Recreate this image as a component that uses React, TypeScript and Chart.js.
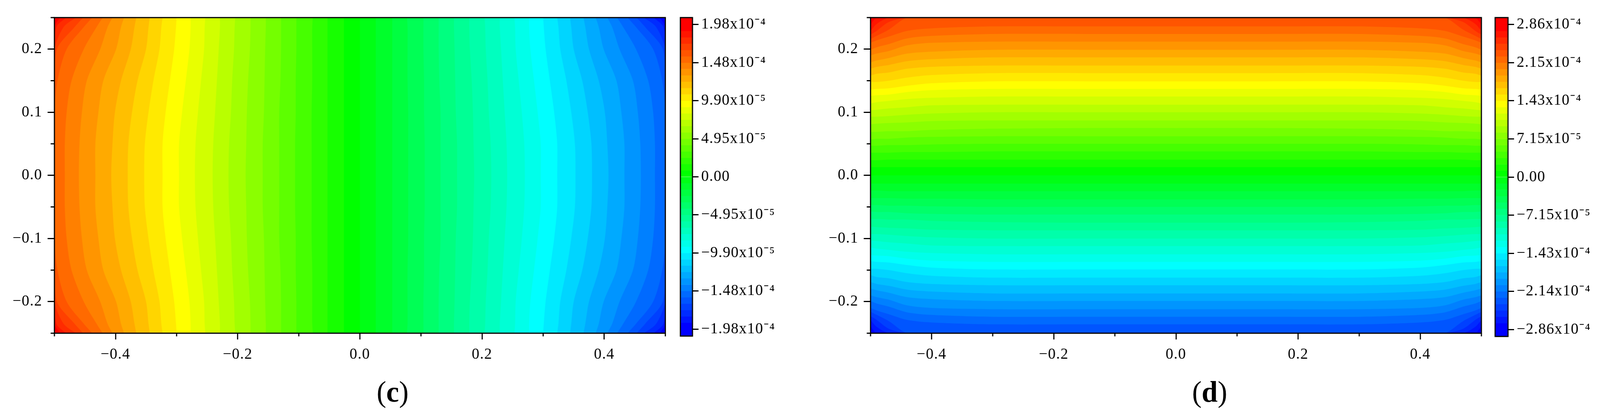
import React, { useEffect, useRef } from "react";
import { Chart, registerables } from "chart.js";

Chart.register(...registerables);

const FONT = "'Liberation Serif', serif";

// x positions of the colour-band edges of panel (c), left to right, read at each row
const rowsC = [0.25, 0.235, 0.2, 0.15, 0.1, 0.05, 0, -0.05, -0.1, -0.15, -0.2, -0.235, -0.25];
const edgesC = [
  [-.491,-.5,-.5,-.5,-.5,-.5,-.5,-.5,-.5,-.5,-.5,-.5,-.491],
  [-.481,-.497,-.5,-.5,-.5,-.5,-.5,-.5,-.5,-.5,-.5,-.497,-.481],
  [-.465,-.485,-.5,-.5,-.5,-.5,-.5,-.5,-.5,-.5,-.5,-.485,-.465],
  [-.453,-.467,-.496,-.5,-.5,-.5,-.5,-.5,-.5,-.5,-.496,-.467,-.453],
  [-.438,-.452,-.48,-.495,-.5,-.5,-.5,-.5,-.5,-.495,-.48,-.452,-.438],
  [-.421,-.431,-.452,-.472,-.48,-.483,-.483,-.483,-.48,-.472,-.452,-.431,-.421],
  [-.405,-.413,-.425,-.447,-.455,-.459,-.46,-.459,-.455,-.447,-.425,-.413,-.405],
  [-.386,-.391,-.399,-.42,-.428,-.433,-.433,-.433,-.428,-.42,-.399,-.391,-.386],
  [-.366,-.369,-.375,-.391,-.401,-.405,-.407,-.405,-.401,-.391,-.375,-.369,-.366],
  [-.344,-.346,-.35,-.364,-.373,-.379,-.38,-.379,-.373,-.364,-.35,-.346,-.344],
  [-.323,-.325,-.328,-.338,-.346,-.352,-.353,-.352,-.346,-.338,-.328,-.325,-.323],
  [-.3,-.301,-.304,-.311,-.318,-.323,-.323,-.323,-.318,-.311,-.304,-.301,-.3],
  [-.277,-.277,-.279,-.285,-.291,-.296,-.296,-.296,-.291,-.285,-.279,-.277,-.277],
  [-.253,-.254,-.255,-.26,-.265,-.269,-.27,-.269,-.265,-.26,-.255,-.254,-.253],
  [-.229,-.229,-.231,-.234,-.237,-.24,-.241,-.24,-.237,-.234,-.231,-.229,-.229],
  [-.204,-.205,-.206,-.209,-.211,-.214,-.215,-.214,-.211,-.209,-.206,-.205,-.204],
  [-.179,-.179,-.18,-.183,-.185,-.186,-.187,-.186,-.185,-.183,-.18,-.179,-.179],
  [-.154,-.154,-.155,-.156,-.157,-.159,-.159,-.159,-.157,-.156,-.155,-.154,-.154],
  [-.129,-.129,-.129,-.13,-.132,-.132,-.132,-.132,-.132,-.13,-.129,-.129,-.129],
  [-.104,-.104,-.104,-.105,-.105,-.106,-.106,-.106,-.105,-.105,-.104,-.104,-.104],
  [-.077,-.078,-.078,-.078,-.079,-.079,-.079,-.079,-.079,-.078,-.078,-.078,-.077],
  [-.053,-.053,-.053,-.053,-.053,-.053,-.053,-.053,-.053,-.053,-.053,-.053,-.053],
  [-.026,-.026,-.026,-.026,-.026,-.026,-.026,-.026,-.026,-.026,-.026,-.026,-.026],
  [0,0,0,0,0,0,0,0,0,0,0,0,0],
  [.026,.026,.026,.026,.026,.026,.026,.026,.026,.026,.026,.026,.026],
  [.053,.053,.053,.053,.053,.053,.053,.053,.053,.053,.053,.053,.053],
  [.077,.078,.078,.078,.079,.079,.079,.079,.079,.078,.078,.078,.077],
  [.104,.104,.104,.105,.105,.106,.106,.106,.105,.105,.104,.104,.104],
  [.129,.129,.129,.13,.132,.132,.132,.132,.132,.13,.129,.129,.129],
  [.154,.154,.155,.156,.157,.159,.159,.159,.157,.156,.155,.154,.154],
  [.179,.179,.18,.183,.185,.186,.187,.186,.185,.183,.18,.179,.179],
  [.204,.205,.206,.209,.211,.214,.215,.214,.211,.209,.206,.205,.204],
  [.229,.229,.231,.234,.237,.24,.241,.24,.237,.234,.231,.229,.229],
  [.253,.254,.255,.26,.265,.269,.27,.269,.265,.26,.255,.254,.253],
  [.277,.277,.279,.285,.291,.296,.296,.296,.291,.285,.279,.277,.277],
  [.3,.301,.304,.311,.318,.323,.323,.323,.318,.311,.304,.301,.3],
  [.323,.325,.328,.338,.346,.352,.353,.352,.346,.338,.328,.325,.323],
  [.344,.346,.35,.364,.373,.379,.38,.379,.373,.364,.35,.346,.344],
  [.366,.369,.375,.391,.401,.405,.407,.405,.401,.391,.375,.369,.366],
  [.386,.391,.399,.42,.428,.433,.433,.433,.428,.42,.399,.391,.386],
  [.405,.413,.425,.447,.455,.459,.46,.459,.455,.447,.425,.413,.405],
  [.421,.431,.452,.472,.48,.483,.483,.483,.48,.472,.452,.431,.421],
  [.438,.452,.48,.495,.5,.5,.5,.5,.5,.495,.48,.452,.438],
  [.453,.467,.496,.5,.5,.5,.5,.5,.5,.5,.496,.467,.453],
  [.465,.485,.5,.5,.5,.5,.5,.5,.5,.5,.5,.485,.465],
  [.481,.497,.5,.5,.5,.5,.5,.5,.5,.5,.5,.497,.481],
  [.491,.5,.5,.5,.5,.5,.5,.5,.5,.5,.5,.5,.491],
];

// y positions of the colour-band edges of panel (d), top to bottom, read at each column
const colsD = [-0.5, -0.49, -0.47, -0.44, -0.4, -0.3, -0.15, 0, 0.15, 0.3, 0.4, 0.44, 0.47, 0.49, 0.5];
const edgesD = [
  [.239,.25,.25,.25,.25,.25,.25,.25,.25,.25,.25,.25,.25,.25,.239],
  [.229,.24,.25,.25,.25,.25,.25,.25,.25,.25,.25,.25,.25,.24,.229],
  [.223,.229,.243,.25,.25,.25,.25,.25,.25,.25,.25,.25,.243,.229,.223],
  [.216,.221,.231,.25,.25,.25,.25,.25,.25,.25,.25,.25,.231,.221,.216],
  [.21,.214,.22,.229,.233,.236,.236,.236,.236,.236,.233,.229,.22,.214,.21],
  [.199,.203,.208,.217,.221,.224,.224,.224,.224,.224,.221,.217,.208,.203,.199],
  [.19,.193,.197,.206,.21,.212,.212,.212,.212,.212,.21,.206,.197,.193,.19],
  [.179,.182,.186,.193,.196,.199,.199,.199,.199,.199,.196,.193,.186,.182,.179],
  [.169,.172,.175,.181,.184,.187,.187,.187,.187,.187,.184,.181,.175,.172,.169],
  [.158,.161,.163,.169,.172,.174,.174,.174,.174,.174,.172,.169,.163,.161,.158],
  [.148,.148,.15,.155,.159,.162,.162,.162,.162,.162,.159,.155,.15,.148,.148],
  [.136,.137,.138,.142,.146,.149,.149,.149,.149,.149,.146,.142,.138,.137,.136],
  [.126,.127,.128,.132,.135,.137,.137,.137,.137,.137,.135,.132,.128,.127,.126],
  [.114,.116,.118,.121,.123,.125,.125,.125,.125,.125,.123,.121,.118,.116,.114],
  [.103,.104,.106,.108,.111,.112,.112,.112,.112,.112,.111,.108,.106,.104,.103],
  [.093,.093,.094,.096,.098,.1,.1,.1,.1,.1,.098,.096,.094,.093,.093],
  [.081,.082,.083,.084,.086,.087,.087,.087,.087,.087,.086,.084,.083,.082,.081],
  [.069,.069,.07,.07,.072,.074,.075,.075,.075,.074,.072,.07,.07,.069,.069],
  [.057,.058,.058,.06,.061,.062,.062,.062,.062,.062,.061,.06,.058,.058,.057],
  [.047,.047,.048,.048,.049,.05,.05,.05,.05,.05,.049,.048,.048,.047,.047],
  [.036,.036,.036,.037,.037,.038,.038,.038,.038,.038,.037,.037,.036,.036,.036],
  [.024,.024,.025,.025,.025,.025,.025,.025,.025,.025,.025,.025,.025,.024,.024],
  [.013,.013,.013,.013,.013,.013,.013,.013,.013,.013,.013,.013,.013,.013,.013],
  [0,0,0,0,0,0,0,0,0,0,0,0,0,0,0],
  [-.013,-.013,-.013,-.013,-.013,-.013,-.013,-.013,-.013,-.013,-.013,-.013,-.013,-.013,-.013],
  [-.024,-.024,-.025,-.025,-.025,-.025,-.025,-.025,-.025,-.025,-.025,-.025,-.025,-.024,-.024],
  [-.036,-.036,-.036,-.037,-.037,-.038,-.038,-.038,-.038,-.038,-.037,-.037,-.036,-.036,-.036],
  [-.047,-.047,-.048,-.048,-.049,-.05,-.05,-.05,-.05,-.05,-.049,-.048,-.048,-.047,-.047],
  [-.057,-.058,-.058,-.06,-.061,-.062,-.062,-.062,-.062,-.062,-.061,-.06,-.058,-.058,-.057],
  [-.069,-.069,-.07,-.07,-.072,-.074,-.075,-.075,-.075,-.074,-.072,-.07,-.07,-.069,-.069],
  [-.081,-.082,-.083,-.084,-.086,-.087,-.087,-.087,-.087,-.087,-.086,-.084,-.083,-.082,-.081],
  [-.093,-.093,-.094,-.096,-.098,-.1,-.1,-.1,-.1,-.1,-.098,-.096,-.094,-.093,-.093],
  [-.103,-.104,-.106,-.108,-.111,-.112,-.112,-.112,-.112,-.112,-.111,-.108,-.106,-.104,-.103],
  [-.114,-.116,-.118,-.121,-.123,-.125,-.125,-.125,-.125,-.125,-.123,-.121,-.118,-.116,-.114],
  [-.126,-.127,-.128,-.132,-.135,-.137,-.137,-.137,-.137,-.137,-.135,-.132,-.128,-.127,-.126],
  [-.136,-.137,-.138,-.142,-.146,-.149,-.149,-.149,-.149,-.149,-.146,-.142,-.138,-.137,-.136],
  [-.148,-.148,-.15,-.155,-.159,-.162,-.162,-.162,-.162,-.162,-.159,-.155,-.15,-.148,-.148],
  [-.158,-.161,-.163,-.169,-.172,-.174,-.174,-.174,-.174,-.174,-.172,-.169,-.163,-.161,-.158],
  [-.169,-.172,-.175,-.181,-.184,-.187,-.187,-.187,-.187,-.187,-.184,-.181,-.175,-.172,-.169],
  [-.179,-.182,-.186,-.193,-.196,-.199,-.199,-.199,-.199,-.199,-.196,-.193,-.186,-.182,-.179],
  [-.19,-.193,-.197,-.206,-.21,-.212,-.212,-.212,-.212,-.212,-.21,-.206,-.197,-.193,-.19],
  [-.199,-.203,-.208,-.217,-.221,-.224,-.224,-.224,-.224,-.224,-.221,-.217,-.208,-.203,-.199],
  [-.21,-.214,-.22,-.229,-.233,-.236,-.236,-.236,-.236,-.236,-.233,-.229,-.22,-.214,-.21],
  [-.216,-.221,-.231,-.25,-.25,-.25,-.25,-.25,-.25,-.25,-.25,-.25,-.231,-.221,-.216],
  [-.223,-.229,-.243,-.25,-.25,-.25,-.25,-.25,-.25,-.25,-.25,-.25,-.243,-.229,-.223],
  [-.229,-.24,-.25,-.25,-.25,-.25,-.25,-.25,-.25,-.25,-.25,-.25,-.25,-.24,-.229],
  [-.239,-.25,-.25,-.25,-.25,-.25,-.25,-.25,-.25,-.25,-.25,-.25,-.25,-.25,-.239],
];

// one colour per band, from the highest value to the lowest
const palette = [
  "#ff0000","#ff1500","#ff2b00","#ff4000","#ff5500","#ff6a00","#ff8000","#ff9500","#ffaa00","#ffbf00","#ffd500","#ffea00",
  "#ffff00","#e8ff00","#d1ff00","#b9ff00","#a2ff00","#8bff00","#74ff00","#5dff00","#46ff00","#2eff00","#17ff00","#00ff00",
  "#00ff15","#00ff2b","#00ff40","#00ff55","#00ff6a","#00ff80","#00ff95","#00ffaa","#00ffbf","#00ffd5","#00ffea","#00ffff",
  "#00eaff","#00d5ff","#00bfff","#00aaff","#0095ff","#0080ff","#006aff","#0055ff","#0040ff","#002bff","#0015ff","#0000ff",
];

// colour-bar band limits, in units of 1e-6, top to bottom
const levelsC = [207.1,189.75,181.5,173.25,165,156.75,148.5,140.25,132,123.75,115.5,107.25,99,90.75,82.5,74.25,66,57.75,49.5,41.25,33,24.75,16.5,8.25,0,-8.25,-16.5,-24.75,-33,-41.25,-49.5,-57.75,-66,-74.25,-82.5,-90.75,-99,-107.25,-115.5,-123.75,-132,-140.25,-148.5,-156.75,-165,-173.25,-181.5,-189.75,-207.1];
const levelsD = [299.1,274.08,262.17,250.25,238.33,226.42,214.5,202.58,190.67,178.75,166.83,154.92,143,131.08,119.17,107.25,95.33,83.42,71.5,59.58,47.67,35.75,23.83,11.92,0,-11.92,-23.83,-35.75,-47.67,-59.58,-71.5,-83.42,-95.33,-107.25,-119.17,-131.08,-143,-154.92,-166.83,-178.75,-190.67,-202.58,-214.5,-226.42,-238.33,-250.25,-262.17,-274.08,-299.1];

const barTicksC = [198, 148.5, 99, 49.5, 0, -49.5, -99, -148.5, -198];
const barLabelsC = ["1.98x10⁻⁴","1.48x10⁻⁴","9.90x10⁻⁵","4.95x10⁻⁵","0.00","−4.95x10⁻⁵","−9.90x10⁻⁵","−1.48x10⁻⁴","−1.98x10⁻⁴"];
const barTicksD = [286, 214.5, 143, 71.5, 0, -71.5, -143, -214.5, -286];
const barLabelsD = ["2.86x10⁻⁴","2.15x10⁻⁴","1.43x10⁻⁴","7.15x10⁻⁵","0.00","−7.15x10⁻⁵","−1.43x10⁻⁴","−2.14x10⁻⁴","−2.86x10⁻⁴"];

const xMajor = [-0.4, -0.2, 0, 0.2, 0.4];
const xMinor = [-0.5, -0.3, -0.1, 0.1, 0.3, 0.5];
const yMajor = [-0.2, -0.1, 0, 0.1, 0.2];
const yMinor = [-0.25, -0.15, -0.05, 0.05, 0.15, 0.25];

const tickText = (v: number) => (v < 0 ? "−" : "") + Math.abs(v).toFixed(1);

const framePlugin = (minorX: number[], minorY: number[]) => ({
  id: "frame",
  beforeDraw(chart: any) {
    chart.ctx.letterSpacing = "1.5px";
  },
  afterDraw(chart: any) {
    const { ctx, chartArea: a, scales } = chart;
    ctx.save();
    ctx.strokeStyle = "#000";
    ctx.lineWidth = 3;
    ctx.strokeRect(a.left, a.top, a.right - a.left, a.bottom - a.top);
    ctx.beginPath();
    minorX.forEach((v) => {
      const p = scales.x.getPixelForValue(v);
      ctx.moveTo(p, a.bottom);
      ctx.lineTo(p, a.bottom + 8);
    });
    minorY.forEach((v) => {
      const p = scales.y.getPixelForValue(v);
      ctx.moveTo(a.left, p);
      ctx.lineTo(a.left - 10, p);
    });
    ctx.stroke();
    ctx.restore();
  },
});

const tickFont = { family: FONT, size: 40 };

function fieldOptions(vertical: boolean, box: any) {
  return {
    responsive: false,
    animation: false,
    devicePixelRatio: 1,
    indexAxis: vertical ? "y" : "x",
    layout: { autoPadding: false, padding: { left: 0, top: box.top, right: box.width - box.right, bottom: 0 } },
    plugins: { legend: { display: false }, tooltip: { enabled: false } },
    elements: { point: { radius: 0 }, line: { borderWidth: 0, tension: 0.3 } },
    scales: {
      x: {
        type: "linear",
        min: -0.5,
        max: 0.5,
        afterBuildTicks: (s: any) => { s.ticks = xMajor.map((value) => ({ value })); },
        afterFit: (s: any) => { s.height = box.height - box.bottom; },
        border: { display: false },
        grid: { drawOnChartArea: false, tickLength: 16, tickColor: "#000", tickWidth: 3 },
        ticks: { font: tickFont, color: "#000", padding: 15, maxRotation: 0, autoSkip: false, callback: (v: number) => tickText(v) },
      },
      y: {
        type: "linear",
        min: -0.25,
        max: 0.25,
        afterBuildTicks: (s: any) => { s.ticks = yMajor.map((value) => ({ value })); },
        afterFit: (s: any) => { s.width = box.left; },
        border: { display: false },
        grid: { drawOnChartArea: false, tickLength: 18, tickColor: "#000", tickWidth: 3 },
        ticks: { font: tickFont, color: "#000", padding: 14, autoSkip: false, callback: (v: number) => tickText(v) },
      },
    },
  };
}

function verticalBands() {
  const line = (xs: number[]) => xs.map((x, i) => ({ x, y: rowsC[i] }));
  const right = rowsC.map(() => 0.5);
  const left = rowsC.map(() => -0.5);
  const sets: any[] = [{ data: line(right), fill: false }];
  for (let i = edgesC.length - 1; i >= 0; i--) {
    sets.push({ data: line(edgesC[i]), fill: 0, backgroundColor: palette[i + 1] });
  }
  sets.push({ data: line(left), fill: 0, backgroundColor: palette[0] });
  return sets;
}

function horizontalBands() {
  const line = (ys: number[]) => colsD.map((x, i) => ({ x, y: ys[i] }));
  const top = colsD.map(() => 0.25);
  const bottom = colsD.map(() => -0.25);
  const sets: any[] = [{ data: line(top), fill: false }];
  edgesD.forEach((e, i) => sets.push({ data: line(e), fill: 0, backgroundColor: palette[i] }));
  sets.push({ data: line(bottom), fill: 0, backgroundColor: palette[palette.length - 1] });
  return sets;
}

function colorBarConfig(levels: number[], tickVals: number[], tickLabels: string[], box: any) {
  const limit = levels[0];
  return {
    type: "bar",
    plugins: [framePlugin([], [])],
    data: {
      labels: [""],
      datasets: palette.map((c, i) => ({ data: [[levels[i + 1], levels[i]]], backgroundColor: c })),
    },
    options: {
      responsive: false,
      animation: false,
      devicePixelRatio: 1,
      layout: { autoPadding: false, padding: { left: box.left, top: box.top, right: 0, bottom: box.height - box.bottom } },
      plugins: { legend: { display: false }, tooltip: { enabled: false } },
      datasets: { bar: { grouped: false, barPercentage: 1, categoryPercentage: 1, borderWidth: 0 } },
      scales: {
        x: { display: false },
        y: {
          type: "linear",
          position: "right",
          min: -limit,
          max: limit,
          afterBuildTicks: (s: any) => { s.ticks = tickVals.map((value) => ({ value })); },
          afterFit: (s: any) => { s.width = box.width - box.right; },
          border: { display: false },
          grid: { drawOnChartArea: false, tickLength: 16, tickColor: "#000", tickWidth: 3 },
          ticks: {
            font: tickFont,
            color: "#000",
            padding: 7,
            autoSkip: false,
            callback: (v: number) => tickLabels[tickVals.indexOf(v)],
          },
        },
      },
    },
  };
}

function Panel({ config, x, w }: { config: any; x: number; w: number }) {
  const ref = useRef<HTMLCanvasElement>(null);
  useEffect(() => {
    const chart = new Chart(ref.current as HTMLCanvasElement, config);
    return () => chart.destroy();
  }, []);
  return <canvas ref={ref} width={w} height={1062} style={{ position: "absolute", left: x, top: 0, width: w, height: 1062 }} />;
}

const H = 1062;
const W = 4226;
const cField = {
  type: "line",
  plugins: [framePlugin(xMinor, yMinor)],
  data: { datasets: verticalBands() },
  options: fieldOptions(true, { left: 143.7, right: 1757.3, top: 45, bottom: 852.7, width: 1780, height: H }),
};
const dField = {
  type: "line",
  plugins: [framePlugin(xMinor, yMinor)],
  data: { datasets: horizontalBands() },
  options: fieldOptions(false, { left: 186.3, right: 1799.7, top: 45, bottom: 852.7, width: 1820, height: H }),
};
const cBar = colorBarConfig(levelsC, barTicksC, barLabelsC, { left: 17, right: 49, top: 45, bottom: 860, width: 333, height: H });
const dBar = colorBarConfig(levelsD, barTicksD, barLabelsD, { left: 16, right: 50, top: 45, bottom: 861, width: 293, height: H });

const capStyle: React.CSSProperties = {
  position: "absolute",
  top: 957,
  fontFamily: FONT,
  fontSize: 76,
  lineHeight: "90px",
  color: "#000",
  transform: "translateX(-50%)",
  whiteSpace: "nowrap",
};

export default function App() {
  const sx = window.innerWidth / W;
  const sy = window.innerHeight / H;
  return (
    <div style={{ position: "fixed", left: 0, top: 0, width: W, height: H, overflow: "hidden", background: "#fff", transform: `scale(${sx}, ${sy})`, transformOrigin: "0 0" }}>
      <Panel config={cField} x={0} w={1780} />
      <Panel config={cBar} x={1780} w={333} />
      <Panel config={dField} x={2113} w={1820} />
      <Panel config={dBar} x={3933} w={293} />
      <div style={{ ...capStyle, left: 1037 }}>(<b>c</b>)</div>
      <div style={{ ...capStyle, left: 3195 }}>(<b>d</b>)</div>
    </div>
  );
}
